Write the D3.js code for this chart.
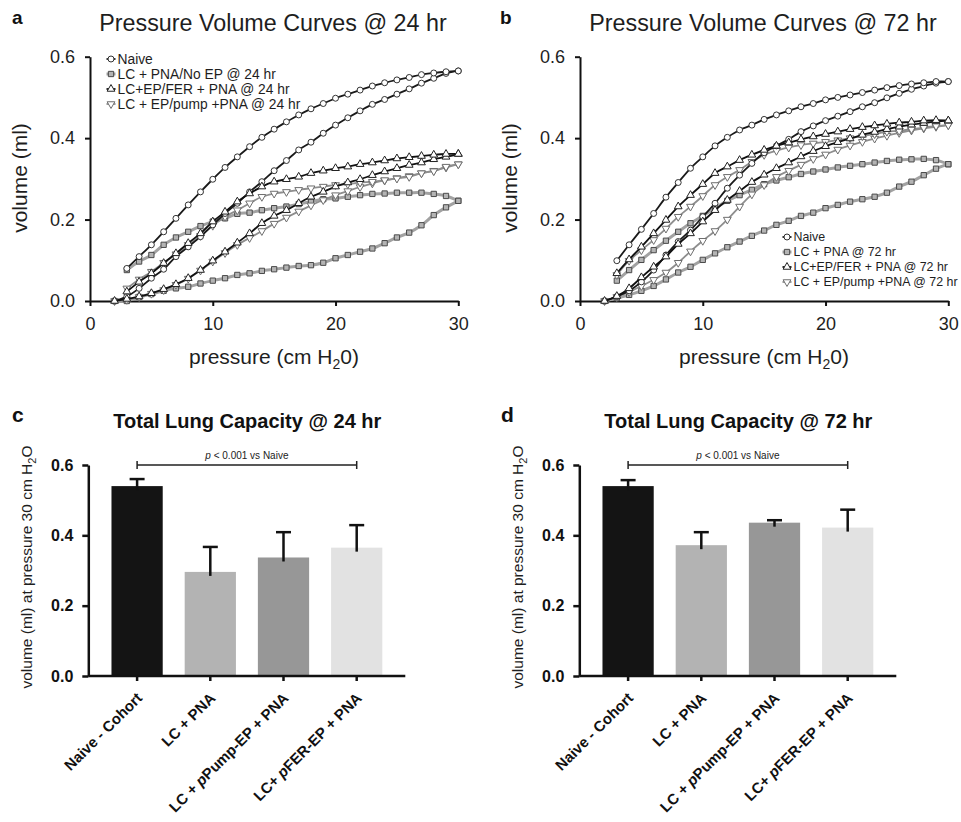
<!DOCTYPE html>
<html>
<head>
<meta charset="utf-8">
<script src="https://cdn.jsdelivr.net/npm/d3@7"></script>
<style>
  body { margin: 0; background: #fff; }
  svg { display: block; font-family: "Liberation Sans", Arial, sans-serif; }
</style>
</head>
<body>
<svg id="fig" width="961" height="822"></svg>
<script>
// pressures (cm H2O) for the inflation and deflation limbs
const inflP = [2, 3, 4, 5, 6, 7, 8, 9, 10, 11, 12, 13, 14, 15, 16, 17, 18, 19, 20, 21, 22, 23, 24, 25, 26, 27, 28, 29, 30];
const deflP = [3, 4, 5, 6, 7, 8, 9, 10, 11, 12, 13, 14, 15, 16, 17, 18, 19, 20, 21, 22, 23, 24, 25, 26, 27, 28, 29, 30];

// 24 hr volumes (ml)
const naive24Infl = [0, 0.011, 0.031, 0.056, 0.078, 0.109, 0.133, 0.158, 0.187, 0.215, 0.240, 0.268, 0.293, 0.320, 0.345, 0.371, 0.390, 0.412, 0.432, 0.450, 0.467, 0.483, 0.495, 0.508, 0.521, 0.535, 0.547, 0.559, 0.565];
const naive24Defl = [0.080, 0.109, 0.138, 0.170, 0.203, 0.236, 0.268, 0.299, 0.328, 0.354, 0.379, 0.402, 0.422, 0.440, 0.457, 0.472, 0.485, 0.498, 0.508, 0.518, 0.528, 0.536, 0.543, 0.549, 0.556, 0.560, 0.563, 0.565];
const pna24Infl = [0, 0.0, 0.010, 0.017, 0.025, 0.031, 0.035, 0.043, 0.050, 0.056, 0.064, 0.068, 0.074, 0.078, 0.082, 0.086, 0.088, 0.094, 0.105, 0.113, 0.121, 0.129, 0.142, 0.156, 0.168, 0.186, 0.211, 0.230, 0.246];
const pna24Defl = [0.076, 0.097, 0.113, 0.138, 0.156, 0.170, 0.184, 0.195, 0.203, 0.214, 0.217, 0.223, 0.228, 0.232, 0.238, 0.244, 0.250, 0.252, 0.256, 0.260, 0.263, 0.264, 0.266, 0.266, 0.266, 0.263, 0.258, 0.246];
const fer24Infl = [0, 0.005, 0.011, 0.019, 0.029, 0.041, 0.056, 0.076, 0.099, 0.121, 0.143, 0.166, 0.191, 0.209, 0.223, 0.240, 0.256, 0.268, 0.281, 0.291, 0.299, 0.309, 0.318, 0.326, 0.334, 0.340, 0.348, 0.354, 0.361];
const fer24Defl = [0.023, 0.047, 0.068, 0.093, 0.117, 0.142, 0.166, 0.195, 0.219, 0.244, 0.264, 0.281, 0.293, 0.299, 0.305, 0.314, 0.320, 0.326, 0.330, 0.336, 0.340, 0.345, 0.350, 0.353, 0.356, 0.359, 0.361, 0.361];
const pump24Infl = [0, 0.003, 0.010, 0.018, 0.027, 0.040, 0.055, 0.075, 0.097, 0.118, 0.138, 0.155, 0.172, 0.190, 0.205, 0.220, 0.235, 0.248, 0.260, 0.270, 0.280, 0.289, 0.296, 0.302, 0.307, 0.314, 0.320, 0.328, 0.336];
const pump24Defl = [0.031, 0.053, 0.072, 0.094, 0.115, 0.138, 0.160, 0.185, 0.207, 0.223, 0.240, 0.256, 0.264, 0.268, 0.273, 0.277, 0.281, 0.285, 0.287, 0.291, 0.293, 0.297, 0.301, 0.305, 0.314, 0.319, 0.330, 0.336];

// 72 hr volumes (ml)
const naive72Infl = [0, 0.011, 0.025, 0.047, 0.076, 0.113, 0.146, 0.174, 0.207, 0.240, 0.277, 0.309, 0.338, 0.364, 0.381, 0.397, 0.416, 0.430, 0.443, 0.454, 0.465, 0.477, 0.487, 0.499, 0.510, 0.520, 0.528, 0.535, 0.539];
const naive72Defl = [0.099, 0.138, 0.176, 0.215, 0.255, 0.291, 0.326, 0.354, 0.381, 0.402, 0.420, 0.432, 0.446, 0.457, 0.467, 0.477, 0.485, 0.494, 0.500, 0.506, 0.512, 0.518, 0.524, 0.529, 0.533, 0.536, 0.539, 0.539];
const pna72Infl = [0, 0.007, 0.015, 0.025, 0.037, 0.053, 0.070, 0.084, 0.101, 0.117, 0.132, 0.146, 0.160, 0.173, 0.187, 0.197, 0.209, 0.217, 0.228, 0.236, 0.244, 0.250, 0.256, 0.266, 0.281, 0.293, 0.309, 0.325, 0.336];
const pna72Defl = [0.050, 0.076, 0.101, 0.125, 0.148, 0.170, 0.191, 0.209, 0.228, 0.246, 0.260, 0.273, 0.287, 0.296, 0.304, 0.312, 0.318, 0.323, 0.328, 0.332, 0.336, 0.340, 0.344, 0.347, 0.348, 0.349, 0.346, 0.336];
const fer72Infl = [0, 0.012, 0.031, 0.058, 0.084, 0.109, 0.140, 0.166, 0.195, 0.223, 0.248, 0.270, 0.292, 0.310, 0.326, 0.340, 0.355, 0.368, 0.380, 0.390, 0.399, 0.408, 0.415, 0.422, 0.428, 0.433, 0.437, 0.441, 0.443];
const fer72Defl = [0.068, 0.102, 0.133, 0.166, 0.199, 0.232, 0.260, 0.287, 0.314, 0.330, 0.346, 0.359, 0.371, 0.381, 0.389, 0.397, 0.404, 0.410, 0.416, 0.422, 0.427, 0.431, 0.435, 0.438, 0.440, 0.443, 0.444, 0.443];
const pump72Infl = [0, 0.010, 0.022, 0.037, 0.052, 0.070, 0.094, 0.122, 0.148, 0.172, 0.200, 0.232, 0.262, 0.285, 0.305, 0.320, 0.335, 0.349, 0.360, 0.372, 0.382, 0.391, 0.399, 0.406, 0.413, 0.419, 0.424, 0.428, 0.432];
const pump72Defl = [0.064, 0.099, 0.125, 0.150, 0.178, 0.207, 0.232, 0.258, 0.285, 0.305, 0.322, 0.342, 0.359, 0.369, 0.377, 0.383, 0.387, 0.391, 0.395, 0.400, 0.405, 0.410, 0.416, 0.418, 0.422, 0.426, 0.430, 0.432];

const legend24 = ['Naive', 'LC + PNA/No EP @ 24 hr', 'LC+EP/FER + PNA @ 24 hr', 'LC + EP/pump +PNA @ 24 hr'];
const legend72 = ['Naive', 'LC + PNA @ 72 hr', 'LC+EP/FER + PNA @ 72 hr', 'LC + EP/pump +PNA @ 72 hr'];
const pvTicksX = [0, 10, 20, 30];
const volTicks = [0, 0.2, 0.4, 0.6];

// total lung capacity bars
const barGroups = ['Naive - Cohort', 'LC + PNA', 'LC + pPump-EP + PNA', 'LC+ pFER-EP + PNA'];
const tlc24 = [0.540, 0.296, 0.337, 0.365];
const sem24 = [0.020, 0.071, 0.072, 0.064];
const tlc72 = [0.540, 0.372, 0.436, 0.422];
const sem72 = [0.017, 0.037, 0.007, 0.051];
const barColors = ['#141414', '#b3b3b3', '#979797', '#e2e2e2'];

const svg = d3.select('#fig');
const ink = '#1e1e1e';

// marker / line look for naive, pna, fer, pump
const styles = [
  {line: '#1a1a1a', lw: 1.8, sym: d3.symbolCircle, size: 28, fill: '#fff', stroke: '#333', rot: 0},
  {line: '#a2a2a2', lw: 3, sym: d3.symbolSquare, size: 28, fill: '#b4b4b4', stroke: '#4a4a4a', rot: 0},
  {line: '#111', lw: 1.8, sym: d3.symbolTriangle, size: 26, fill: '#fff', stroke: '#222', rot: 0},
  {line: '#8e8e8e', lw: 1.8, sym: d3.symbolTriangle, size: 26, fill: '#fff', stroke: '#6e6e6e', rot: 180}
];
const drawOrder = [1, 3, 0, 2];

function marker(sel, s) {
  sel.append('path')
    .attr('d', d3.symbol(s.sym, s.size))
    .attr('transform', `rotate(${s.rot})`)
    .attr('fill', s.fill)
    .attr('stroke', s.stroke)
    .attr('stroke-width', 1);
}

function pvPanel(o) {
  const x = d3.scaleLinear().domain([0, 30]).range([o.left, o.left + 368.3]);
  const y = d3.scaleLinear().domain([0, 0.6]).range([301, 56.7]);
  const g = svg.append('g');

  const xa = g.append('g')
    .attr('transform', 'translate(0,301)')
    .call(d3.axisBottom(x).tickValues(pvTicksX).tickSize(5).tickSizeOuter(0).tickPadding(11));
  const ya = g.append('g')
    .attr('transform', `translate(${o.left},0)`)
    .call(d3.axisLeft(y).tickValues(volTicks).tickFormat(d3.format('.1f')).tickSize(5).tickSizeOuter(0).tickPadding(10));
  [xa, ya].forEach(a => {
    a.selectAll('path, line').attr('stroke', '#111').attr('stroke-width', 2);
    a.selectAll('text').attr('font-size', 18).attr('fill', ink).attr('font-family', 'Liberation Sans, Arial, sans-serif');
  });

  const line = d3.line().x(d => x(d[0])).y(d => y(d[1])).curve(d3.curveCatmullRom);
  drawOrder.forEach(i => {
    const s = styles[i], ser = o.series[i];
    const up = d3.zip(inflP, ser[0]);
    const dn = d3.zip(deflP, ser[1]);
    [up, dn].forEach(pts => g.append('path').datum(pts)
      .attr('d', line).attr('fill', 'none').attr('stroke', s.line).attr('stroke-width', s.lw));
    g.selectAll(null).data(up.concat(dn)).join('g')
      .attr('transform', d => `translate(${x(d[0])},${y(d[1])})`)
      .call(marker, s);
  });

  // legend
  const lg = g.append('g');
  o.legend.forEach((t, i) => {
    const s = styles[i];
    const row = lg.append('g').attr('transform', `translate(${o.legX},${o.legY + i * 15})`);
    row.append('line').attr('x1', 0).attr('x2', 9).attr('stroke', s.line).attr('stroke-width', s.lw);
    row.append('g').attr('transform', 'translate(4.5,0)').call(marker, s);
    row.append('text').attr('x', 11).attr('dy', '0.35em').attr('font-size', o.legSize).attr('fill', ink).text(t);
  });

  g.append('text').attr('x', o.left + 183).attr('y', 31).attr('text-anchor', 'middle')
    .attr('font-size', 23.3).attr('fill', ink).text(o.title);
  g.append('text').attr('x', o.labX).attr('y', 24).attr('font-size', 19).attr('font-weight', 'bold').attr('fill', '#111').text(o.letter);
  g.append('text').attr('transform', `translate(${o.yLabX},178) rotate(-90)`).attr('text-anchor', 'middle')
    .attr('font-size', 21).attr('fill', ink).text('volume (ml)');
  const xl = g.append('text').attr('x', o.left + 184).attr('y', 364).attr('text-anchor', 'middle')
    .attr('font-size', 21).attr('fill', ink);
  xl.append('tspan').text('pressure (cm H');
  xl.append('tspan').attr('font-size', 14).attr('dy', 5).text('2');
  xl.append('tspan').attr('dy', -5).text('0)');
}

function barPanel(o) {
  const x = d3.scaleBand().domain(barGroups).range([o.left + 12.2, o.left + 305]).paddingInner(0.3).paddingOuter(0.15);
  const y = d3.scaleLinear().domain([0, 0.6]).range([676, 465]);
  const g = svg.append('g');

  g.selectAll(null).data(o.values).join('rect')
    .attr('x', (d, i) => x(barGroups[i]))
    .attr('width', x.bandwidth())
    .attr('y', d => y(d))
    .attr('height', d => y(0) - y(d))
    .attr('fill', (d, i) => barColors[i]);

  // error bars (upper only)
  const eb = g.selectAll(null).data(o.values).join('g')
    .attr('transform', (d, i) => `translate(${x(barGroups[i]) + x.bandwidth() / 2},0)`);
  eb.append('line').attr('y1', d => y(d) + 4).attr('y2', (d, i) => y(d + o.errs[i]))
    .attr('stroke', '#111').attr('stroke-width', 2.5);
  eb.append('line').attr('x1', -7.5).attr('x2', 7.5)
    .attr('y1', (d, i) => y(d + o.errs[i])).attr('y2', (d, i) => y(d + o.errs[i]))
    .attr('stroke', '#111').attr('stroke-width', 2.5);

  const xa = g.append('g').attr('transform', 'translate(0,676)')
    .call(d3.axisBottom(x).tickSize(5).tickSizeOuter(0).tickFormat(''));
  xa.select('.domain').attr('d', `M${o.left},0H${o.left + 317}`);
  const ya = g.append('g').attr('transform', `translate(${o.left},0)`)
    .call(d3.axisLeft(y).tickValues(volTicks).tickFormat(d3.format('.1f')).tickSize(6).tickSizeOuter(0).tickPadding(9));
  [xa, ya].forEach(a => a.selectAll('path, line').attr('stroke', '#111').attr('stroke-width', 2.5));
  ya.selectAll('text').attr('font-size', 16).attr('font-weight', 'bold').attr('fill', '#111')
    .attr('font-family', 'Liberation Sans, Arial, sans-serif');

  // rotated category labels, the leading "p" of the plasmid names in italics
  barGroups.forEach(name => {
    const t = g.append('text')
      .attr('transform', `translate(${x(name) + x.bandwidth() / 2 + 6},699) rotate(-45)`)
      .attr('text-anchor', 'end').attr('font-size', 15).attr('font-weight', 'bold').attr('fill', '#111');
    name.split(/(\bp(?=[A-Z]))/).filter(s => s).forEach(part => {
      t.append('tspan').attr('font-style', part === 'p' ? 'italic' : null).text(part);
    });
  });

  // significance bracket
  const x0 = x(barGroups[0]) + x.bandwidth() / 2, x1 = x(barGroups[3]) + x.bandwidth() / 2, yb = y(0.6);
  g.append('path').attr('d', `M${x0},${yb - 4}V${yb + 4}M${x0},${yb}H${x1}M${x1},${yb - 4}V${yb + 4}`)
    .attr('fill', 'none').attr('stroke', '#222').attr('stroke-width', 1.5);
  const st = g.append('text').attr('x', (x0 + x1) / 2).attr('y', yb - 6).attr('text-anchor', 'middle')
    .attr('font-size', 10).attr('fill', '#222');
  st.append('tspan').attr('font-style', 'italic').text('p');
  st.append('tspan').text(' < 0.001 vs Naive');

  g.append('text').attr('x', o.left + 159).attr('y', 428).attr('text-anchor', 'middle')
    .attr('font-size', 20).attr('font-weight', 'bold').attr('fill', '#111').text(o.title);
  g.append('text').attr('x', o.labX).attr('y', 422).attr('font-size', 21).attr('font-weight', 'bold').attr('fill', '#111').text(o.letter);
  const yl = g.append('text').attr('transform', `translate(${o.yLabX},567) rotate(-90)`).attr('text-anchor', 'middle')
    .attr('font-size', 15.5).attr('fill', ink);
  yl.append('tspan').text('volume (ml) at pressure 30 cm H');
  yl.append('tspan').attr('font-size', 11).attr('dy', 4).text('2');
  yl.append('tspan').attr('dy', -4).text('O');
}

pvPanel({
  left: 90, title: 'Pressure Volume Curves @ 24 hr', letter: 'a', labX: 12, yLabX: 27,
  legend: legend24, legX: 106.5, legY: 59, legSize: 13.8,
  series: [[naive24Infl, naive24Defl], [pna24Infl, pna24Defl], [fer24Infl, fer24Defl], [pump24Infl, pump24Defl]]
});
pvPanel({
  left: 580, title: 'Pressure Volume Curves @ 72 hr', letter: 'b', labX: 500, yLabX: 517,
  legend: legend72, legX: 782.5, legY: 237, legSize: 12.4,
  series: [[naive72Infl, naive72Defl], [pna72Infl, pna72Defl], [fer72Infl, fer72Defl], [pump72Infl, pump72Defl]]
});
barPanel({left: 88.3, title: 'Total Lung Capacity @ 24 hr', letter: 'c', labX: 12, yLabX: 32, values: tlc24, errs: sem24});
barPanel({left: 579.3, title: 'Total Lung Capacity @ 72 hr', letter: 'd', labX: 501, yLabX: 523, values: tlc72, errs: sem72});
</script>
</body>
</html>
